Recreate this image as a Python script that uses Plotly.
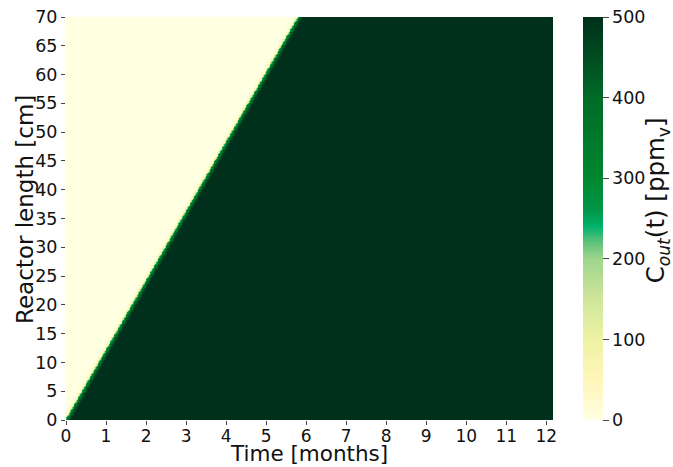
import numpy as np
import plotly.graph_objects as go

# Breakthrough front: arrival time (months) at the reactor inlet and outlet
front_length_cm = [0.0, 70.0]
front_time_months = [0.0, 5.8]

# Concentration profile across the front, vs. time offset from the front (months)
profile_offset_months = [-0.15, -0.09, -0.05, -0.025, 0.0, 0.03, 0.06, 0.10, 0.15]
profile_ppm = [0, 10, 40, 120, 240, 330, 410, 470, 500]

# Simulation grid
t_months = np.linspace(0, 365 / 30, 610)
length_cm = np.linspace(0, 70, 281)

t_front = np.interp(length_cm, front_length_cm, front_time_months)
offset = t_months[None, :] - t_front[:, None]
c_out = np.interp(offset, profile_offset_months, profile_ppm)

colorscale = [
    [0.00, "#ffffe2"],
    [0.10, "#fff6b8"],
    [0.20, "#edf2a4"],
    [0.30, "#cfe69a"],
    [0.40, "#9ed58c"],
    [0.44, "#62c27c"],
    [0.48, "#00b26a"],
    [0.52, "#009748"],
    [0.60, "#00872f"],
    [0.80, "#006a27"],
    [1.00, "#002f1b"],
]

font_family = "DejaVu Sans"
tick_size = 17.5
title_size = 23
text_color = "#111"

# plot area in pixels, used to place the titles
plot_left, plot_right, plot_top, plot_bottom = 66, 552.7, 17, 420
plot_w = plot_right - plot_left
plot_h = plot_bottom - plot_top


def px_to_paper(x_px, y_px):
    return (x_px - plot_left) / plot_w, (plot_bottom - y_px) / plot_h


xt_x, xt_y = px_to_paper(309, 467)
yt_x, yt_y = px_to_paper(25, 209)
ct_x, ct_y = px_to_paper(657, 200)

fig = go.Figure(
    go.Heatmap(
        x=t_months,
        y=length_cm,
        z=c_out,
        zmin=0,
        zmax=500,
        colorscale=colorscale,
        colorbar=dict(
            tickvals=[0, 100, 200, 300, 400, 500],
            ticks="outside",
            ticklen=6,
            tickcolor="#444",
            tickfont=dict(size=tick_size, family=font_family, color=text_color),
            thickness=20,
            len=1,
            lenmode="fraction",
            ypad=0,
            xpad=0,
            x=(583 - plot_left) / plot_w,
            xanchor="left",
            y=0.5,
            yanchor="middle",
            outlinewidth=0,
        ),
    )
)

fig.update_layout(
    width=673,
    height=467,
    margin=dict(l=plot_left, r=673 - plot_right, t=plot_top, b=467 - plot_bottom, autoexpand=False),
    paper_bgcolor="white",
    plot_bgcolor="white",
    font=dict(family=font_family, color=text_color),
    annotations=[
        dict(
            text="Time [months]",
            xref="paper", yref="paper",
            x=xt_x, y=xt_y,
            xanchor="center", yanchor="bottom",
            borderpad=0,
            showarrow=False,
            font=dict(size=21.5, family=font_family, color=text_color),
        ),
        dict(
            text="Reactor length [cm]",
            xref="paper", yref="paper",
            x=yt_x, y=yt_y,
            xanchor="center", yanchor="middle",
            textangle=-90,
            showarrow=False,
            font=dict(size=title_size, family=font_family, color=text_color),
        ),
        dict(
            text="C<sub><i>out</i></sub>(t) [ppm<sub>v</sub>]",
            xref="paper", yref="paper",
            x=ct_x, y=ct_y,
            xanchor="center", yanchor="middle",
            textangle=-90,
            showarrow=False,
            font=dict(size=24.5, family=font_family, color=text_color),
        ),
    ],
)

fig.update_xaxes(
    range=[0, 365 / 30],
    tickvals=list(range(0, 13)),
    ticks="outside",
    ticklen=4,
    tickcolor="#444",
    tickfont=dict(size=17, family=font_family),
    ticklabelstandoff=-3,
    showgrid=False,
    zeroline=False,
    showline=False,
    automargin=False,
)
fig.update_yaxes(
    range=[0, 70],
    tickvals=list(range(0, 71, 5)),
    ticks="outside",
    ticklen=4,
    tickcolor="#444",
    tickfont=dict(size=tick_size, family=font_family),
    showgrid=False,
    zeroline=False,
    showline=False,
    automargin=False,
)

fig.write_html("out.html")
